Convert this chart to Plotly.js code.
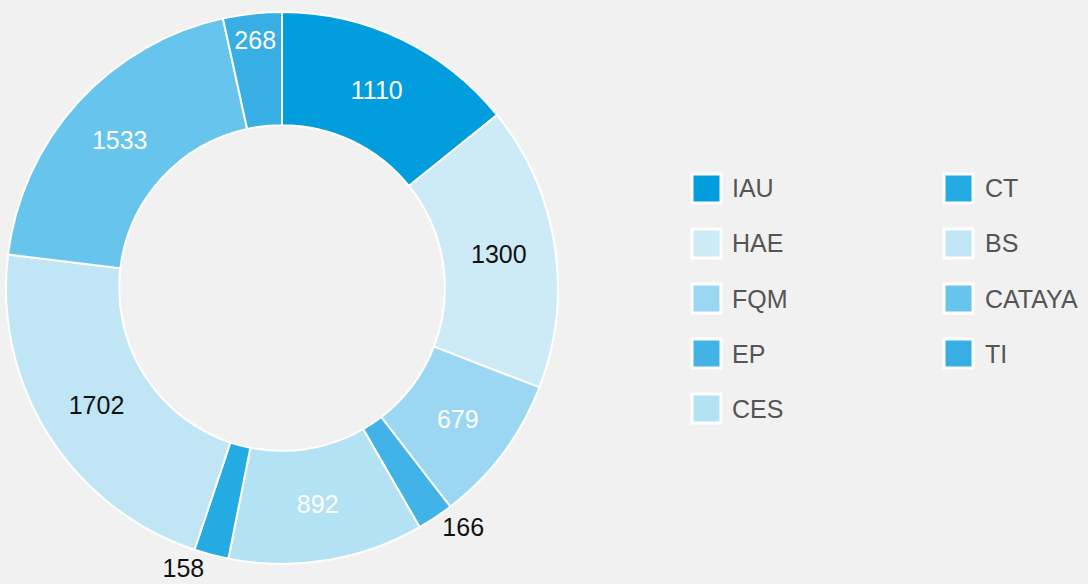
<!DOCTYPE html>
<html>
<head>
<meta charset="utf-8">
<script src="https://cdn.plot.ly/plotly-3.0.1.min.js"></script>
<style>html,body{margin:0;padding:0;background:#f1f1f1;}#chart{width:1088px;height:584px;}</style>
</head>
<body>
<div id="chart"></div>
<script>
const labels = ["IAU", "HAE", "FQM", "EP", "CES", "CT", "BS", "CATAYA", "TI"];
const values = [1110, 1300, 679, 166, 892, 158, 1702, 1533, 268];
const colors = ["#029ddd", "#cdebf7", "#9bd7f2", "#42b3e6", "#b3e2f5", "#24abe3", "#c0e6f6", "#67c4ec", "#37afe4"];
const textColors = ["#ffffff", "#111111", "#ffffff", "#111111", "#ffffff", "#111111", "#111111", "#ffffff", "#ffffff"];
const textPositions = ["inside", "inside", "inside", "outside", "inside", "outside", "inside", "inside", "inside"];
const legendCol1 = ["IAU", "HAE", "FQM", "EP", "CES"];
const legendCol2 = ["CT", "BS", "CATAYA", "TI"];

const W = 1088, H = 584;
const px = x => x / W;
const py = y => 1 - y / H;

const trace = {
  type: "pie",
  labels: labels,
  values: values,
  hole: 0.59,
  sort: false,
  direction: "clockwise",
  rotation: 0,
  textinfo: "value",
  textposition: textPositions,
  insidetextorientation: "horizontal",
  textfont: {family: "Liberation Sans, Arial, sans-serif", size: 25, color: textColors},
  marker: {colors: colors, line: {color: "#ffffff", width: 2}},
  showlegend: false,
  domain: {x: [px(6), px(558)], y: [py(564), py(12)]},
  hoverinfo: "label+value"
};

const shapes = [];
const annotations = [];
function addLegend(list, boxX, textX) {
  list.forEach((name, i) => {
    const idx = labels.indexOf(name);
    const cy = 188.5 + i * 55;
    shapes.push({
      type: "rect", xref: "paper", yref: "paper",
      x0: px(boxX), x1: px(boxX + 29), y0: py(cy + 14.5), y1: py(cy - 14.5),
      fillcolor: colors[idx], line: {color: "#ffffff", width: 3}
    });
    annotations.push({
      xref: "paper", yref: "paper", x: px(textX), y: py(cy),
      xanchor: "left", yanchor: "middle", showarrow: false,
      text: name, font: {family: "Liberation Sans, Arial, sans-serif", size: 25, color: "#555555"}
    });
  });
}
addLegend(legendCol1, 692, 730);
addLegend(legendCol2, 944, 983);

const layout = {
  width: W, height: H,
  margin: {l: 0, r: 0, t: 0, b: 0},
  paper_bgcolor: "#f1f1f1",
  plot_bgcolor: "#f1f1f1",
  showlegend: false,
  shapes: shapes,
  annotations: annotations
};

Plotly.newPlot("chart", [trace], layout, {displayModeBar: false, staticPlot: true});
</script>
</body>
</html>
